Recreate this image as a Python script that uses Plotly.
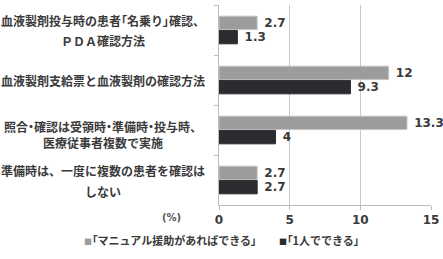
import plotly.graph_objects as go

categories = [
    "血液製剤投与時の患者「名乗り」確認、<br>ＰＤＡ確認方法",
    "血液製剤支給票と血液製剤の確認方法",
    "照合・確認は受領時・準備時・投与時、<br>医療従事者複数で実施",
    "準備時は、一度に複数の患者を確認は<br>しない",
]
manual_values = [2.7, 12, 13.3, 2.7]
alone_values = [1.3, 9.3, 4, 2.7]
series_names = ["「マニュアル援助があればできる」", "「1人でできる」"]
x_ticks = [0, 5, 10, 15]

GRAY = "#9c9c9c"
DARK = "#2b2b30"
TXT = "#3a3a3a"
JP = "Noto Sans CJK JP"
NUM = "DejaVu Sans"


def prop(s):
    # proportional widths for CJK brackets / middle dots
    out = ""
    for ch in s:
        if ch in "「」・":
            out += f"<span style=\"font-feature-settings:'palt'\">{ch}</span>"
        else:
            out += ch
    return out


fig = go.Figure()
for name, vals, col, lc in [
    (series_names[0], manual_values, GRAY, "#c4c4c4"),
    (series_names[1], alone_values, DARK, DARK),
]:
    fig.add_trace(go.Bar(
        y=categories, x=vals, name=name, orientation="h",
        marker=dict(color=col, line=dict(color=lc, width=1)),
        texttemplate="\u00a0%{x}", textposition="outside",
        textfont=dict(family=NUM, size=12, color=TXT, weight="bold"),
        cliponaxis=False, constraintext="none", showlegend=False,
    ))

# category labels, centered multi-line
line_shifts = [[10, -10], [0], [4, -12], [10, -11]]
ann = []
for cat, shifts in zip(categories, line_shifts):
    lines = cat.split("<br>")
    for ln, sh in zip(lines, shifts):
        ann.append(dict(
            xref="paper", yref="y", x=-0.545, y=cat, yshift=sh,
            text=prop(ln), showarrow=False, xanchor="center", yanchor="middle",
            font=dict(family=JP, size=12, color=TXT, weight="bold"),
        ))

ann.append(dict(xref="paper", yref="paper", x=-0.225, y=-0.06, text="(%)",
                showarrow=False, xanchor="center", yanchor="middle",
                font=dict(family=NUM, size=10, color="#555555", weight="bold")))

legend_x = [82, 277]
for name, col, lx in zip(series_names, [GRAY, DARK], legend_x):
    ann.append(dict(
        xref="paper", yref="paper", x=(lx - 219.3) / 211.7, y=-0.175,
        text=f'<span style="color:{col};font-size:8px">■</span>{prop(name)}',
        showarrow=False, xanchor="left", yanchor="middle",
        font=dict(family=JP, size=11, color=TXT, weight="bold"),
    ))

fig.update_layout(
    width=443, height=259,
    margin=dict(l=219, r=12, t=5, b=54),
    paper_bgcolor="white", plot_bgcolor="white",
    barmode="group", bargap=0.43, bargroupgap=0.06,
    annotations=ann,
    xaxis=dict(
        range=[0, 15], tickvals=x_ticks, ticktext=[str(t) for t in x_ticks],
        showgrid=True, gridcolor="#c8c8c8", gridwidth=1,
        showline=True, linecolor="#bcbcbc", linewidth=1,
        ticks="outside", ticklen=4, tickcolor="#bcbcbc",
        tickfont=dict(family=NUM, size=12, color=TXT, weight="bold"),
        zeroline=False, fixedrange=True,
    ),
    yaxis=dict(
        autorange="reversed", showticklabels=False,
        showline=True, linecolor="#bcbcbc", linewidth=1,
        ticks="outside", ticklen=4, tickcolor="#bcbcbc", tickson="boundaries",
        showgrid=False, fixedrange=True,
    ),
)

fig.write_html("out.html")
